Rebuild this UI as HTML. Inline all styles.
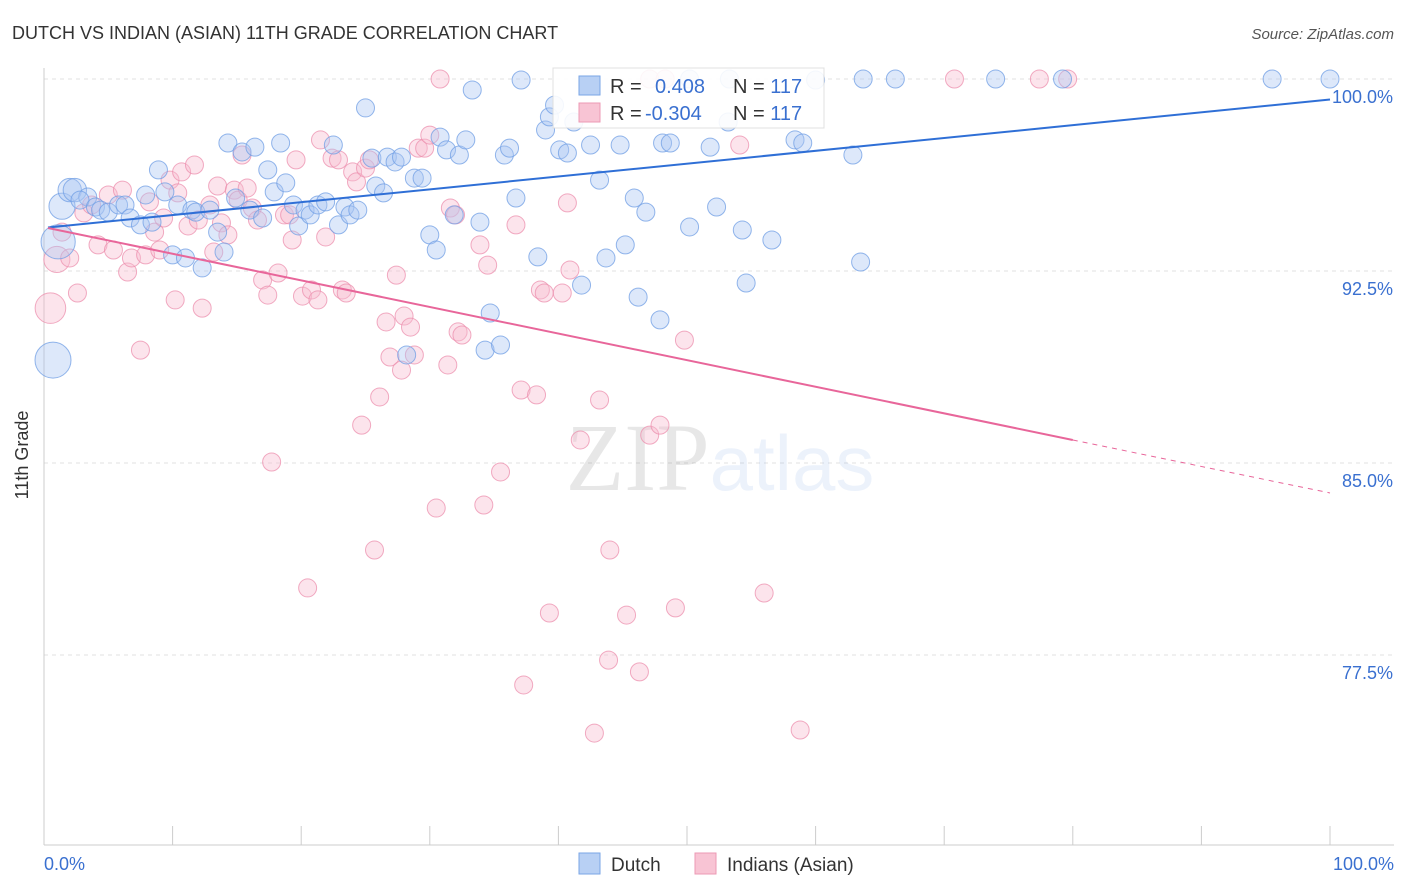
<!DOCTYPE html>
<html><head><meta charset="utf-8"><style>
body{margin:0;background:#fff;font-family:"Liberation Sans",sans-serif;}
svg{display:block}
</style></head><body>
<svg id="chart" width="1406" height="892">
<text x="12" y="39" font-size="18" fill="#333">DUTCH VS INDIAN (ASIAN) 11TH GRADE CORRELATION CHART</text>
<text x="1394" y="39" font-size="15" fill="#555" text-anchor="end" font-style="italic">Source: ZipAtlas.com</text>
<g id="grid"></g>
<text x="720" y="490" font-size="96" text-anchor="middle" fill="#000" opacity="0.09" font-family="Liberation Serif,serif">ZIP<tspan fill="#3a78d8" font-family="Liberation Sans,sans-serif" font-size="78">atlas</tspan></text>
<g id="points"></g>
<g id="trends"></g>
<text x="28" y="455" font-size="18" fill="#333" text-anchor="middle" transform="rotate(-90 28 455)">11th Grade</text>
<g>
<rect x="553" y="68" width="271" height="60" fill="#fff" stroke="#ddd" opacity="0.9"/>
<rect x="579" y="76" width="21" height="19" fill="#b8d0f4" stroke="#7aa6e6"/>
<rect x="579" y="103" width="21" height="19" fill="#f8c4d4" stroke="#ec9ab4"/>
<text x="610" y="93" font-size="20" fill="#333">R = <tspan fill="#3a70d0" x="655">0.408</tspan><tspan x="733">N = </tspan><tspan fill="#3a70d0">117</tspan></text>
<text x="610" y="120" font-size="20" fill="#333">R = <tspan fill="#3a70d0" x="645">-0.304</tspan><tspan x="733">N = </tspan><tspan fill="#3a70d0">117</tspan></text>
</g>
<g>
<rect x="579" y="853" width="21" height="21" fill="#b8d0f4" stroke="#7aa6e6"/>
<text x="611" y="871" font-size="19" fill="#333">Dutch</text>
<rect x="695" y="853" width="21" height="21" fill="#f8c4d4" stroke="#ec9ab4"/>
<text x="727" y="871" font-size="19" fill="#333">Indians (Asian)</text>
</g>
</svg>
<script>
const yTicks=[100,92.5,85,77.5];
const yTickLabels=["100.0%","92.5%","85.0%","77.5%"];
const xTickLabels=["0.0%","100.0%"];
const dutchX=[0.7,1.4,1.1,2.0,2.4,3.4,2.8,4.0,4.4,5.0,5.8,6.3,6.7,7.5,7.9,8.4,8.9,9.4,10.0,10.4,11.0,11.5,11.8,12.3,12.9,13.5,14.0,14.3,14.9,15.4,16.0,16.4,17.0,17.4,17.9,18.4,18.8,19.4,19.8,20.3,20.7,21.3,21.9,22.5,22.9,23.4,23.8,24.4,25.0,25.5,25.8,26.4,26.7,27.3,27.8,28.2,28.8,29.4,30.0,30.5,30.8,31.3,31.9,32.3,32.8,33.3,33.9,34.3,34.7,35.5,35.8,36.2,36.7,37.1,38.4,39.0,39.3,39.7,40.1,40.7,41.2,41.8,42.5,43.2,43.7,44.8,45.2,45.9,46.2,46.8,47.9,48.1,48.7,50.2,51.8,52.3,53.2,54.3,54.6,56.6,58.4,59.0,60.0,62.9,63.5,63.7,66.2,74.0,79.2,95.5,100,53.3,50.2];
const dutchY=[89.02,95.03,93.64,95.66,95.66,95.39,95.27,95.0,94.88,94.80,95.08,95.08,94.57,94.30,95.47,94.41,96.45,95.59,93.13,95.08,93.01,94.88,94.80,92.62,94.88,94.02,93.24,97.5,95.35,97.15,94.88,97.34,94.57,96.45,95.59,97.5,95.94,95.08,94.26,94.88,94.69,95.08,95.2,97.42,94.30,95.0,94.69,94.88,98.87,96.91,95.82,95.55,96.95,96.76,96.95,89.22,96.13,96.13,93.91,93.32,97.73,97.23,94.69,97.03,97.62,99.57,94.41,89.41,90.86,89.61,97.03,97.3,95.35,99.96,93.05,98.01,98.52,98.98,97.23,97.11,98.32,91.95,97.42,96.05,93.01,97.42,93.52,95.35,91.48,94.80,90.59,97.5,97.5,94.22,97.34,95.0,98.32,94.10,92.03,93.71,97.62,97.5,99.96,97.03,92.85,100,100,100,100,100,100,100,100];
const dutchSize=[2,1.45,1.9,1.3,1.3];
const indianX=[0.5,1.0,1.4,2.0,2.6,3.1,3.7,4.2,5.0,5.4,6.1,6.5,6.8,7.5,7.9,8.2,8.6,9.0,9.3,9.8,10.2,10.4,10.7,11.2,11.7,12.0,12.3,12.9,13.2,13.5,13.8,14.3,14.8,15.1,15.4,15.8,16.2,16.6,17.0,17.4,17.7,18.2,18.7,19.1,19.3,19.6,20.1,20.5,20.8,21.3,21.5,21.9,22.4,22.9,23.2,23.5,24.0,24.3,24.7,25.0,25.3,25.7,26.1,26.6,26.9,27.4,27.8,28.0,28.5,28.8,29.1,29.6,30.0,30.5,30.8,31.4,31.6,32.0,32.2,32.5,33.9,34.2,34.5,35.5,36.7,37.3,37.1,38.3,38.6,38.9,39.3,40.3,40.7,40.9,41.7,42.8,43.2,43.9,44.0,45.3,46.3,47.1,47.9,49.1,49.8,54.1,56.0,58.8,70.8,77.4,79.6,47.1,48.3];
const indianY=[91.05,92.95,94.02,93.01,91.64,94.77,95.08,93.52,95.47,93.32,95.66,92.46,93.01,89.41,93.13,95.2,94.02,93.32,94.57,96.05,91.37,95.55,96.37,94.26,96.64,94.49,91.05,95.08,93.24,95.82,94.38,93.91,95.66,95.27,97.03,95.74,94.96,94.49,92.15,91.56,85.04,92.42,94.69,94.69,93.71,96.84,91.52,80.12,91.76,91.37,97.62,93.83,96.91,96.84,91.76,91.64,96.37,95.98,86.48,96.52,96.84,81.6,87.58,90.51,89.14,92.34,88.63,90.74,90.31,89.22,97.30,97.30,97.81,83.24,100,88.83,94.96,94.69,90.12,90.0,93.52,83.36,92.73,84.65,94.30,76.33,87.85,87.66,91.76,91.64,79.14,91.64,95.16,92.54,85.9,74.45,87.46,77.30,81.6,79.06,76.84,86.09,86.48,79.34,89.8,97.42,79.92,74.57,100,100,100,100,100];
const indianSize=[1.7,1.45];
const dutchTrend=[94.2,99.2];
const indianTrend=[94.18,83.83];
const indianTrendSolidEnd=80;

const X0=44,X1=1330,Ytop=79,pxPer=25.6;
const sx=v=>X0+(X1-X0)*v/100;
const sy=v=>Ytop+(100-v)*pxPer;
const NS="http://www.w3.org/2000/svg";
function mk(tag,attrs,parent){const e=document.createElementNS(NS,tag);for(const k in attrs)e.setAttribute(k,attrs[k]);parent.appendChild(e);return e;}
const grid=document.getElementById('grid'),svg=document.getElementById('chart');
yTicks.forEach((t,i)=>{
 const l=mk('line',{x1:44,x2:1394,y1:sy(t),y2:sy(t),stroke:'#e2e2e2','stroke-dasharray':'4,4'},grid);
 
 
 const tx=mk('text',{x:1393,y:sy(t)+24,'font-size':18,fill:'#3a70d0','text-anchor':'end'},svg);
 tx.textContent=yTickLabels[i];
 
 
});
const ax=mk('line',{x1:44,x2:44,y1:68,y2:845,stroke:'#ccc'},grid);


const bx=mk('line',{x1:44,x2:1394,y1:845,y2:845,stroke:'#ccc'},grid);


for(let i=0;i<=10;i++){const t=mk('line',{x1:sx(i*10),x2:sx(i*10),y1:826,y2:845,stroke:'#ccc'},grid);
 
 }
[[0,'start',44],[1,'end',1394]].forEach(([i,a,x])=>{const t=mk('text',{x:x,y:870,'font-size':18,fill:'#3a70d0','text-anchor':a},svg);t.textContent=xTickLabels[i];
 
 });
const pts=document.getElementById('points');
function drawPts(xs,ys,sz,fill,stroke,name){xs.forEach((x,i)=>{const r=9*(sz[i]||1);
 const c=mk('circle',{cx:sx(x),cy:sy(ys[i]),r:r,fill:fill,'fill-opacity':0.4,stroke:stroke,'stroke-opacity':0.75,'stroke-width':1},pts);
 
 });}
drawPts(indianX,indianY,indianSize,'#f8bcd0','#ec8fae','indian-point');
drawPts(dutchX,dutchY,dutchSize,'#a9c6f2','#6f9ee4','dutch-point');
const tr=document.getElementById('trends');
const b=mk('line',{x1:sx(0)+4,y1:sy(dutchTrend[0]),x2:sx(100),y2:sy(dutchTrend[1]),stroke:'#2f6fd6','stroke-width':2},tr);


const iy=x=>indianTrend[0]+(indianTrend[1]-indianTrend[0])*x/100;
const p1=mk('line',{x1:sx(0)+4,y1:sy(iy(0)),x2:sx(indianTrendSolidEnd),y2:sy(iy(indianTrendSolidEnd)),stroke:'#e8669a','stroke-width':2},tr);


const p2=mk('line',{x1:sx(indianTrendSolidEnd),y1:sy(iy(indianTrendSolidEnd)),x2:sx(100),y2:sy(iy(100)),stroke:'#e8669a','stroke-width':1,'stroke-dasharray':'5,5'},tr);


</script>
</body></html>
